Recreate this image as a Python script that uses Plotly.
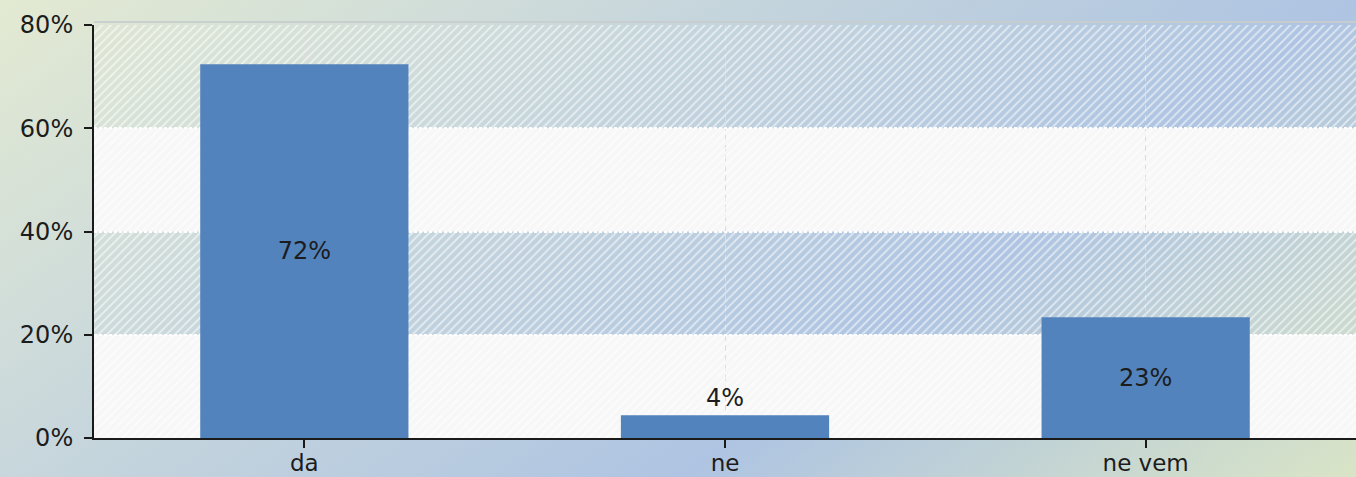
import base64
import plotly.graph_objects as go

# Survey answers and their shares (%)
categories = ["da", "ne", "ne vem"]
shares = [72.4, 4.4, 23.4]
label_positions = ["inside", "outside", "inside"]

# Y axis ticks (%)
y_ticks = [0, 20, 40, 60, 80]
y_tick_labels = ["0%", "20%", "40%", "60%", "80%"]

W, H = 1356, 477
MARGIN = dict(l=94, r=0, t=25, b=39)
FONT = "DejaVu Sans"
BAR_COLOR = "rgb(83,131,189)"
TEXT_COLOR = "#1c1c1c"

x_pos = list(range(len(categories)))

# Diagonal green-blue-green backdrop for the whole canvas
gx, gy = 1.0 / (1.5 * W), 1.0 / (3.0 * H)
g2 = gx * gx + gy * gy
x2, y2 = gx / g2, gy / g2
svg = f"""<svg xmlns='http://www.w3.org/2000/svg' width='{W}' height='{H}' viewBox='0 0 {W} {H}' preserveAspectRatio='none'>
<defs><linearGradient id='g' gradientUnits='userSpaceOnUse' x1='0' y1='0' x2='{x2:.1f}' y2='{y2:.1f}'>
<stop offset='0' stop-color='#e3ead2'/>
<stop offset='0.33' stop-color='#c8d7dc'/>
<stop offset='0.67' stop-color='#aec4e2'/>
<stop offset='1' stop-color='#d9e4c6'/>
</linearGradient></defs>
<rect width='{W}' height='{H}' fill='url(#g)'/></svg>"""
bg_src = "data:image/svg+xml;base64," + base64.b64encode(svg.encode()).decode()

plot_w = W - MARGIN["l"] - MARGIN["r"]
plot_h = H - MARGIN["t"] - MARGIN["b"]

fig = go.Figure()

# Diagonal hatching across the whole plotting area
fig.add_trace(go.Bar(
    x=[sum(x_pos) / len(x_pos)],
    y=[max(y_ticks)],
    base=[min(y_ticks)],
    width=[len(categories)],
    marker=dict(
        color="rgba(0,0,0,0)",
        line=dict(width=0),
        pattern=dict(shape="/", fgcolor="white", fgopacity=0.6,
                     bgcolor="rgba(0,0,0,0)", size=6, solidity=0.3),
    ),
    hoverinfo="skip",
    showlegend=False,
))

# Answer bars
fig.add_trace(go.Bar(
    x=x_pos,
    y=shares,
    width=0.495,
    marker=dict(color=BAR_COLOR, line=dict(width=0)),
    text=shares,
    texttemplate="%{y:.0f}%",
    textposition=label_positions,
    insidetextanchor="middle",
    textfont=dict(family=FONT, size=24, color=TEXT_COLOR),
    insidetextfont=dict(family=FONT, size=24, color=TEXT_COLOR),
    outsidetextfont=dict(family=FONT, size=24, color=TEXT_COLOR),
    cliponaxis=False,
    hoverinfo="skip",
    showlegend=False,
))

# Alternating light bands
for i in range(len(y_ticks) - 1):
    if i % 2 == 0:
        fig.add_shape(type="rect", xref="paper", yref="y",
                      x0=0, x1=1, y0=y_ticks[i], y1=y_ticks[i + 1],
                      fillcolor="#f7f7f7", line=dict(width=0), layer="below")

# Thin grey rim along the top of the plotting area
fig.add_shape(type="line", xref="paper", yref="paper", x0=0, x1=1,
              y0=1 + 3.0 / plot_h, y1=1 + 3.0 / plot_h,
              line=dict(color="rgba(200,205,205,0.9)", width=2), layer="below")

fig.add_layout_image(dict(
    source=bg_src, xref="paper", yref="paper",
    x=-MARGIN["l"] / plot_w, y=1 + MARGIN["t"] / plot_h,
    sizex=W / plot_w, sizey=H / plot_h,
    sizing="stretch", xanchor="left", yanchor="top", layer="below",
))

fig.update_layout(
    width=W, height=H,
    margin=MARGIN,
    paper_bgcolor="rgba(0,0,0,0)",
    plot_bgcolor="rgba(0,0,0,0)",
    barmode="overlay",
    font=dict(family=FONT, size=24, color=TEXT_COLOR),
    xaxis=dict(
        range=[-0.5, len(categories) - 0.5],
        tickvals=x_pos, ticktext=categories,
        automargin=False,
        showgrid=True, gridcolor="#dcdcdc", gridwidth=1, griddash="6px,4px",
        zeroline=False,
        showline=True, linecolor="#1a1a1a", linewidth=2,
        ticks="outside", ticklen=8, tickwidth=2, tickcolor="#1a1a1a",
        ticklabelstandoff=-5,
        tickfont=dict(family=FONT, size=23, color=TEXT_COLOR),
        fixedrange=True,
    ),
    yaxis=dict(
        range=[min(y_ticks), max(y_ticks)],
        tickvals=y_ticks, ticktext=y_tick_labels,
        automargin=False,
        showgrid=True, gridcolor="white", gridwidth=2, griddash="3px,2px",
        zeroline=False,
        showline=True, linecolor="#1a1a1a", linewidth=2,
        ticks="outside", ticklen=8, tickwidth=2, tickcolor="#1a1a1a",
        ticklabelstandoff=6,
        tickfont=dict(family=FONT, size=24, color=TEXT_COLOR),
        fixedrange=True,
    ),
)

fig.write_html("out.html", config={"displayModeBar": False})
